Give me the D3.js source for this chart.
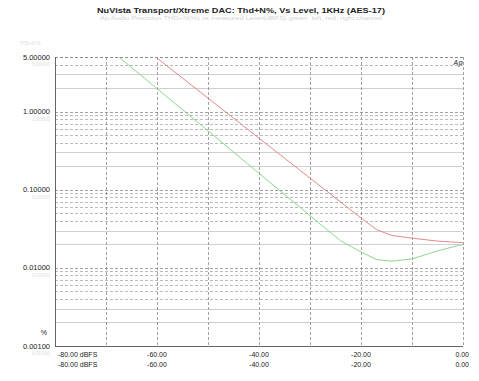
<!DOCTYPE html>
<html lang="en">
<head>
<meta charset="UTF-8">
<title>THD+N vs Level</title>
<style>
  body { margin: 0; background: #fff; font-family: "Liberation Sans", Arial, sans-serif; }
  svg text { fill: #222; }
</style>
</head>
<body>
<svg id="chart"></svg>
<script src="https://d3js.org/d3.v7.min.js"></script>
<script>
// level in dBFS, THD+N in %
const levelsA = [-61, -60, -50, -40, -30, -20, -17, -14, -10, -5, 0];
const thdA    = [5.6, 4.84, 1.49, 0.457, 0.141, 0.0435, 0.031, 0.026, 0.024, 0.022, 0.021];
const levelsB = [-68, -60, -50, -40, -30, -24, -20, -17, -14, -10, -5, 0];
const thdB    = [5.33, 1.97, 0.568, 0.162, 0.0466, 0.0222, 0.016, 0.0128, 0.0122, 0.013, 0.0165, 0.020];
const xTicks = [-80, -60, -40, -20, 0];
const xTickLabels = ["-80.00 dBFS", "-60.00", "-40.00", "-20.00", "0.00"];
const yTicks = [5, 1, 0.1, 0.01, 0.001];
const yTickLabels = ["5.00000", "1.00000", "0.10000", "0.01000", "0.00100"];
const title = "NuVista Transport/Xtreme DAC: Thd+N%, Vs Level, 1KHz (AES-17)";

const width = 479, height = 381;
const margin = { left: 55, right: 16, top: 57, bottom: 35 };

const svg = d3.select("#chart").attr("width", width).attr("height", height);

const x = d3.scaleLinear().domain([-80, 0]).range([margin.left, width - margin.right]);
const y = d3.scaleLog().domain([0.001, 5]).range([height - margin.bottom, margin.top]);

// title
svg.append("text")
  .attr("x", 97).attr("y", 13)
  .attr("textLength", 288).attr("lengthAdjust", "spacingAndGlyphs")
  .attr("font-size", 7.5).attr("font-weight", "bold")
  .text(title);
svg.append("text")
  .attr("x", 100).attr("y", 20)
  .attr("textLength", 282).attr("lengthAdjust", "spacingAndGlyphs")
  .attr("font-size", 4.5).style("fill", "#d4d4d4")
  .text("Ap  Audio Precision  THD+N(%) vs measured Level(dBFS)  green: left, red: right channel");

// faint axis caption top-left
svg.append("text")
  .attr("x", 20).attr("y", 45)
  .attr("font-size", 4.5).style("fill", "#ddd")
  .text("THD+N %");

// horizontal grid (log minors)
const minor = [];
for (let e = -3; e <= 0; e++) {
  for (let m = 1; m <= 9; m++) {
    const v = m * Math.pow(10, e);
    if (v > 0.001 && v <= 5) minor.push({ v, m });
  }
}
svg.append("g").selectAll("line")
  .data(minor)
  .join("line")
  .attr("x1", margin.left).attr("x2", width - margin.right)
  .attr("y1", d => Math.round(y(d.v)) + 0.5).attr("y2", d => Math.round(y(d.v)) + 0.5)
  .attr("stroke", d => d.m === 1 ? "#8a8a8a" : (d.m <= 3 ? "#c4c4c4" : "#aaa"))
  .attr("stroke-width", 0.8)
  .attr("stroke-dasharray", d => d.m === 2 || d.m === 3 ? null : "3,2");

// vertical grid every 10 dB
svg.append("g").selectAll("line")
  .data(d3.range(-70, 1, 10))
  .join("line")
  .attr("x1", d => Math.round(x(d)) + 0.5).attr("x2", d => Math.round(x(d)) + 0.5)
  .attr("y1", margin.top).attr("y2", height - margin.bottom)
  .attr("stroke", "#8a8a8a")
  .attr("stroke-width", 0.8)
  .attr("stroke-dasharray", "3,2");

// top border
svg.append("line")
  .attr("x1", margin.left).attr("x2", width - margin.right)
  .attr("y1", margin.top + 0.5).attr("y2", margin.top + 0.5)
  .attr("stroke", "#8a8a8a").attr("stroke-dasharray", "3,2");

// axes lines
svg.append("line")
  .attr("x1", margin.left + 0.5).attr("x2", margin.left + 0.5)
  .attr("y1", margin.top).attr("y2", height - margin.bottom)
  .attr("stroke", "#666");
svg.append("line")
  .attr("x1", margin.left).attr("x2", width - margin.right)
  .attr("y1", height - margin.bottom + 0.5).attr("y2", height - margin.bottom + 0.5)
  .attr("stroke", "#666");

// curves
svg.append("clipPath").attr("id", "plotclip")
  .append("rect")
  .attr("x", margin.left).attr("y", margin.top)
  .attr("width", width - margin.left - margin.right)
  .attr("height", height - margin.top - margin.bottom);

const line = d3.line().x(d => x(d[0])).y(d => y(d[1]));
const plot = svg.append("g").attr("clip-path", "url(#plotclip)");
plot.append("path")
  .datum(d3.zip(levelsB, thdB))
  .attr("d", line)
  .attr("fill", "none").attr("stroke", "#8fd68f").attr("stroke-width", 1);
plot.append("path")
  .datum(d3.zip(levelsA, thdA))
  .attr("d", line)
  .attr("fill", "none").attr("stroke", "#e38a8a").attr("stroke-width", 1);

// y labels
const yl = svg.append("g");
yTicks.forEach((v, i) => {
  yl.append("text")
    .attr("x", 50).attr("y", y(v) + 2.5)
    .attr("text-anchor", "end").attr("font-size", 7.5)
    .text(yTickLabels[i]);
  yl.append("text")
    .attr("x", 50).attr("y", y(v) + 9)
    .attr("text-anchor", "end").attr("font-size", 5)
    .style("fill", "#e0e0e0")
    .text(yTickLabels[i]);
});
svg.append("text")
  .attr("x", 47).attr("y", y(0.001) - 11)
  .attr("text-anchor", "end").attr("font-size", 7)
  .text("%");

// x labels, two rows
[357, 367].forEach(ty => {
  xTicks.forEach((v, i) => {
    const first = i === 0, last = i === xTicks.length - 1;
    svg.append("text")
      .attr("x", first ? x(v) + 3 : (last ? x(v) + 6 : x(v)))
      .attr("y", ty)
      .attr("text-anchor", first ? "start" : (last ? "end" : "middle"))
      .attr("font-size", 7)
      .text(xTickLabels[i]);
  });
});

// small logo in corner
svg.append("text")
  .attr("x", 458).attr("y", 65)
  .attr("text-anchor", "middle")
  .attr("font-size", 7).attr("font-style", "italic").attr("font-weight", "bold")
  .style("fill", "#666")
  .text("Ap");
</script>
</body>
</html>
